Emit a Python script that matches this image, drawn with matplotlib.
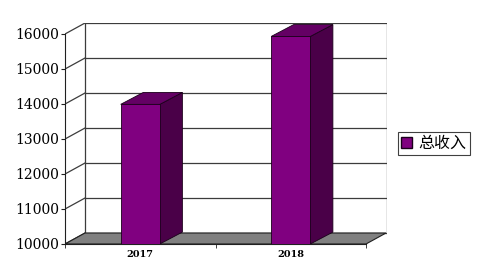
import matplotlib.pyplot as plt
from matplotlib.patches import Polygon, Patch

years = ['2017', '2018']
income = [13990, 15930]
series_name = '总收入'
y_ticks = [10000, 11000, 12000, 13000, 14000, 15000, 16000]

# 3d look: depth offsets in data units
DX = 0.133
DY = 314
BDX = 0.15
BDY = 340
y0 = 10000
ytop = 16000
xl, xr = -0.5, 1.5
xmax = xl + 322 / 150.5

fig = plt.figure(figsize=(4.83, 2.64), dpi=100)
ax = fig.add_axes([65 / 483, 20 / 264, 322 / 483, 221 / 264])
ax.set_xlim(xl, xmax)
ax.set_ylim(y0, y0 + 221 / 35 * 1000)

grid_c = '#3c3c3c'
# back wall and side wall lines
for v in y_ticks:
    ax.plot([xl + DX, xmax], [v + DY, v + DY], color=grid_c, lw=0.9, zorder=1)
    ax.plot([xl, xl + DX], [v, v + DY], color=grid_c, lw=0.9, zorder=1)
ax.plot([xl + DX, xl + DX], [y0 + DY, ytop + DY], color=grid_c, lw=0.9, zorder=1)
ax.plot([xmax, xmax], [y0 + DY, ytop + DY], color=grid_c, lw=0.9, zorder=1)

# floor
floor = Polygon([(xl, y0), (xr, y0), (xr + DX, y0 + DY), (xl + DX, y0 + DY)],
                closed=True, facecolor='#808080', edgecolor='#202020', lw=0.8, zorder=2)
ax.add_patch(floor)

# bars
w = 0.26
xs = list(range(len(years)))
ax.bar(xs, [v - y0 for v in income], bottom=y0, width=w, color='#800080',
       edgecolor='#1a001a', lw=0.6, zorder=4)
for x, v in zip(xs, income):
    l, r = x - w / 2, x + w / 2
    side = Polygon([(r, y0), (r + BDX, y0 + BDY), (r + BDX, v + BDY), (r, v)],
                   closed=True, facecolor='#4a0048', edgecolor='#1a001a', lw=0.6, zorder=3)
    top = Polygon([(l, v), (r, v), (r + BDX, v + BDY), (l + BDX, v + BDY)],
                  closed=True, facecolor='#640064', edgecolor='#1a001a', lw=0.6, zorder=3)
    ax.add_patch(side)
    ax.add_patch(top)

# axes
for s in ['top', 'right']:
    ax.spines[s].set_visible(False)
ax.spines['left'].set_bounds(y0, ytop)
ax.spines['bottom'].set_bounds(xl, xr)
ax.spines['left'].set_color('#202020')
ax.spines['bottom'].set_color('#202020')
ax.spines['left'].set_zorder(5)
ax.set_yticks(y_ticks)
ax.set_yticklabels([str(v) for v in y_ticks], family='DejaVu Serif', fontsize=10)
ax.tick_params(axis='y', length=3, pad=1, color='#202020')
ax.set_xticks(xs)
ax.set_xticklabels(years, family='DejaVu Serif', fontsize=7, fontweight='bold')
ax.set_xticks([xl, 0.5, xr], minor=True)
ax.tick_params(axis='x', which='major', length=0, pad=4)
ax.tick_params(axis='x', which='minor', length=3, color='#202020')

handle = Patch(facecolor='#800080', edgecolor='#1a001a', label=series_name)
leg = fig.legend(handles=[handle], loc='center', bbox_to_anchor=(434 / 483, 1 - 143.5 / 264),
                 prop={'family': ['Noto Sans CJK SC', 'DejaVu Sans'], 'size': 11.5},
                 fancybox=False, framealpha=1, edgecolor='#404040',
                 handlelength=0.7, handleheight=0.7, handletextpad=0.4,
                 borderpad=0.2, borderaxespad=0)
leg.get_frame().set_linewidth(0.8)

fig.savefig('out.png', dpi=100)
